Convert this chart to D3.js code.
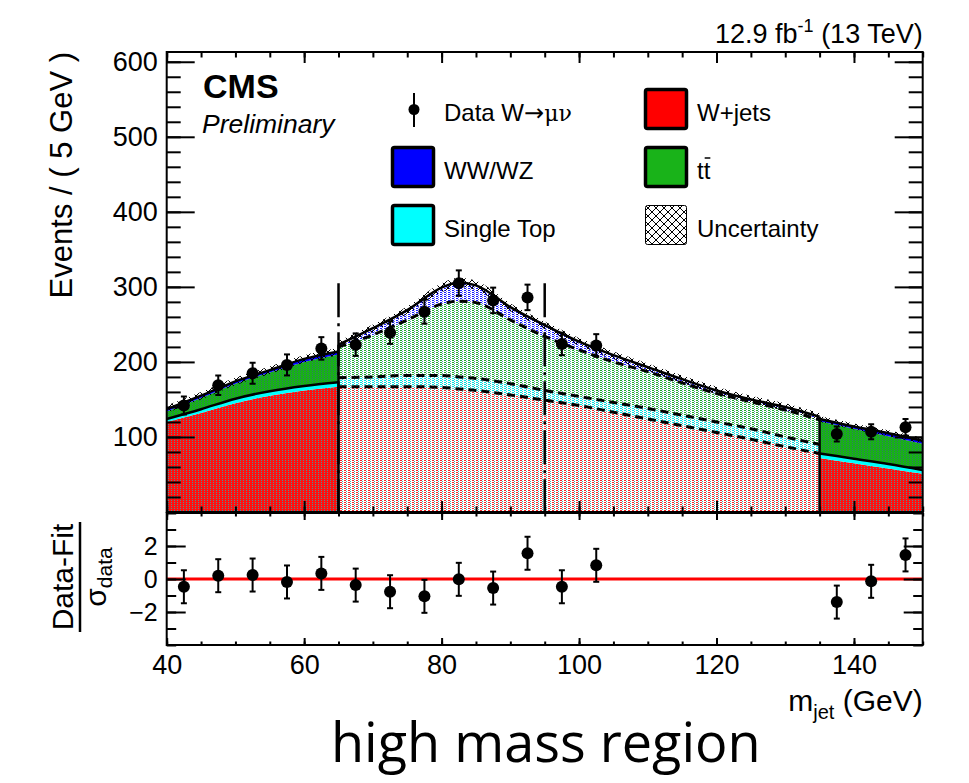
<!DOCTYPE html>
<html>
<head>
<meta charset="UTF-8">
<title>jet mass fit, high mass region</title>
<script src="https://cdn.jsdelivr.net/npm/d3@7"></script>
<style>
body{margin:0;background:#fff;}
svg text{font-family:"Liberation Sans",Arial,Helvetica,sans-serif;fill:#000;}
</style>
</head>
<body>
<div id="chart"></div>
<script>
// ---- data ----
var binCenters=[42.5,47.5,52.5,57.5,62.5,67.5,72.5,77.5,82.5,87.5,92.5,97.5,102.5,137.5,142.5,147.5];
var dataCounts=[142,169,185,196,218,223,239,267,305,282,286,224,222,104,107,113];
var dataErrors=[12,13,14,14,15,15,15,16,17,17,17,15,15,10,10,11];
var pulls=[-0.47,0.2,0.24,-0.18,0.34,-0.37,-0.77,-1.05,-0.02,-0.55,1.56,-0.47,0.83,-1.4,-0.14,1.46];
var pullError=1;

// fit components, low sideband
var lowMass=[40,45,50,55,60,65];
var lowWjets=[120,132,145,155,162,167];
var lowSingleTop=[4,5,6,6,6,6];
var lowTtbar=[10,15,20,25,32,37];
var lowDiboson=[3,3,3,3,4,4];
var lowUnc=[5,5,5,5,5,5];
// signal region (fitted, drawn dotted)
var sigMass=[65,70,75,80,82.5,85,90,95,100,105,110,115,120,125,130,135];
var sigWjets=[167,167,167,166,164,162,156,149,142,133,124,115,106,97,87,78];
var sigSingleTop=[12,13,15,16,16,16,15,13,12,13,14,14,14,14,13,12];
var sigTtbar=[41,56,74,95,101,101,85,72,62,54,49,43,38,36,36,33];
var sigDiboson=[3,9,13,22,25,23,17,15,11,9,6,5,4,3,4,4];
var sigUnc=[5,5,5,6,6,6,5,5,5,5,5,5,5,5,5,5];
// high sideband
var highMass=[135,140,145,150];
var highWjets=[72,65,58,51];
var highSingleTop=[6,6,6,5];
var highTtbar=[43,40,37,35];
var highDiboson=[3,3,4,4];
var highUnc=[4,4,4,4];

var windowEdges=[65,95];
var windowTop=305;

var xTickLabels=[40,60,80,100,120,140];
var yTickLabels=[100,200,300,400,500,600];
var pullTickLabels=[-2,0,2];

// ---- layout ----
var W=969,H=783;
var fLeft=166.7,fRight=922.7,fTop=52,mainBottom=512,ratioTop=513,ratioBottom=645;

var svg=d3.select("#chart").append("svg").attr("width",W).attr("height",H);
var defs=svg.append("defs");

var x=d3.scaleLinear().domain([40,150]).range([fLeft,fRight]);
var y=d3.scaleLinear().domain([0,613]).range([mainBottom,fTop]);
var yr=d3.scaleLinear().domain([-4,4]).range([ratioBottom,ratioTop]);

// fill patterns (ROOT-ish dotted fills)
function pattern(id,w,h,bg,dots){
	var p=defs.append("pattern").attr("id",id).attr("patternUnits","userSpaceOnUse")
		.attr("width",w).attr("height",h);
	p.append("rect").attr("width",w).attr("height",h).attr("fill",bg);
	dots.forEach(function(d){
		p.append("rect").attr("x",d[0]).attr("y",d[1]).attr("width",d[2]).attr("height",d[3]).attr("fill",d[4]);
	});
}
pattern("side-wjets",3,2,"#ff1010",[[0,0,1,1,"#4a9494"]]);
pattern("side-stop",3,2,"#00ffff",[]);
pattern("side-ttbar",3,2,"#18b018",[[0,0,1,1,"#2f7d62"]]);
pattern("side-diboson",3,2,"#0000ff",[]);
pattern("sig-wjets",4,2,"#ffffff",[[0,0,2,1,"#ee2828"],[2,1,1,1,"#50a8a8"]]);
pattern("sig-stop",4,2,"#ffffff",[[0,0,2,1,"#00e0e0"],[2,1,1,1,"#30c8c8"]]);
pattern("sig-ttbar",4,2,"#ffffff",[[0,0,2,1,"#1ea82e"],[2,1,1,1,"#58b0a0"]]);
pattern("sig-diboson",4,2,"#ffffff",[[0,0,2,1,"#1818ff"],[2,1,1,1,"#7070ff"]]);

var hatch=defs.append("pattern").attr("id","hatch").attr("patternUnits","userSpaceOnUse")
	.attr("width",8).attr("height",8);
hatch.append("path").attr("d","M0,0L8,8M8,0L0,8").attr("stroke","#000").attr("stroke-width",1).attr("fill","none");

defs.append("clipPath").attr("id","mainClip").append("rect")
	.attr("x",fLeft).attr("y",fTop).attr("width",fRight-fLeft).attr("height",mainBottom-fTop);

var plot=svg.append("g").attr("clip-path","url(#mainClip)");

// ---- stacked fit components ----
var keys=["wjets","stop","ttbar","diboson"];
var regions=[
	{mass:lowMass,wjets:lowWjets,stop:lowSingleTop,ttbar:lowTtbar,diboson:lowDiboson,unc:lowUnc,kind:"side"},
	{mass:sigMass,wjets:sigWjets,stop:sigSingleTop,ttbar:sigTtbar,diboson:sigDiboson,unc:sigUnc,kind:"sig"},
	{mass:highMass,wjets:highWjets,stop:highSingleTop,ttbar:highTtbar,diboson:highDiboson,unc:highUnc,kind:"side"}
];
var curve=d3.curveMonotoneX;

regions.forEach(function(r){
	var rows=r.mass.map(function(m,i){
		return {m:m,wjets:r.wjets[i],stop:r.stop[i],ttbar:r.ttbar[i],diboson:r.diboson[i],unc:r.unc[i]};
	});
	r.series=d3.stack().keys(keys)(rows);
	var area=d3.area().curve(curve)
		.x(function(d){return x(d.data.m);})
		.y0(function(d){return y(d[0]);})
		.y1(function(d){return y(d[1]);});
	plot.append("g").selectAll("path").data(r.series).enter().append("path")
		.attr("d",area)
		.attr("fill",function(d){return "url(#"+r.kind+"-"+d.key+")";});

	var line=d3.line().curve(curve)
		.x(function(d){return x(d.data.m);})
		.y(function(d){return y(d[1]);});
	if(r.kind=="side"){
		plot.append("path").attr("d",line(r.series[1])).attr("fill","none")
			.attr("stroke","#000").attr("stroke-width",2.5);
	}else{
		[0,1,2].forEach(function(k){
			plot.append("path").attr("d",line(r.series[k])).attr("fill","none")
				.attr("stroke","#000").attr("stroke-width",3).attr("stroke-dasharray","8,5");
		});
	}
	// uncertainty band around the total
	var tot=r.series[3];
	var band=d3.area().curve(curve)
		.x(function(d){return x(d.data.m);})
		.y0(function(d){return y(d[1]-d.data.unc);})
		.y1(function(d){return y(d[1]+d.data.unc);});
	plot.append("path").attr("d",band(tot)).attr("fill","url(#hatch)");
	plot.append("path").attr("d",line(tot)).attr("fill","none")
		.attr("stroke","#000").attr("stroke-width",2.5);
});

// region edges
var lowTot=regions[0].series[3],sigTot=regions[1].series[3],highTot=regions[2].series[3];
var edges=[
	{m:65,top:Math.max(lowTot[lowTot.length-1][1],sigTot[0][1])},
	{m:135,top:Math.max(sigTot[sigTot.length-1][1],highTot[0][1])}
];
plot.selectAll(".edge").data(edges).enter().append("line")
	.attr("x1",function(d){return x(d.m);}).attr("x2",function(d){return x(d.m);})
	.attr("y1",y(0)).attr("y2",function(d){return y(d.top);})
	.attr("stroke","#000").attr("stroke-width",2.5);

// mass window markers
plot.selectAll(".win").data(windowEdges).enter().append("line")
	.attr("x1",function(d){return x(d);}).attr("x2",function(d){return x(d);})
	.attr("y1",y(windowTop)).attr("y2",y(0))
	.attr("stroke","#000").attr("stroke-width",2.5).attr("stroke-dasharray","34,6,3,6");

// ---- data points ----
function drawPoints(g,xs,ys,lo,hi,r){
	var pts=g.selectAll(null).data(xs).enter().append("g");
	pts.append("line").attr("x1",function(d){return x(d);}).attr("x2",function(d){return x(d);})
		.attr("y1",function(d,i){return lo(i);}).attr("y2",function(d,i){return hi(i);})
		.attr("stroke","#000").attr("stroke-width",2);
	[lo,hi].forEach(function(f){
		pts.append("line").attr("x1",function(d){return x(d)-3;}).attr("x2",function(d){return x(d)+3;})
			.attr("y1",function(d,i){return f(i);}).attr("y2",function(d,i){return f(i);})
			.attr("stroke","#000").attr("stroke-width",2);
	});
	pts.append("circle").attr("cx",function(d){return x(d);}).attr("cy",function(d,i){return ys(i);})
		.attr("r",r).attr("fill","#000");
}
drawPoints(plot,binCenters,
	function(i){return y(dataCounts[i]);},
	function(i){return y(dataCounts[i]-dataErrors[i]);},
	function(i){return y(dataCounts[i]+dataErrors[i]);},6);

// ---- main frame and axes ----
function axisStyle(g){
	g.select(".domain").remove();
	g.selectAll("line").attr("stroke","#000").attr("stroke-width",2);
	g.selectAll("text").attr("fill","#000");
}
var yMinor=d3.range(0,614,20),yMajor=d3.range(0,614,100);
svg.append("g").attr("transform","translate("+fLeft+",0)")
	.call(d3.axisRight(y).tickValues(yMinor).tickSize(14).tickFormat("")).call(axisStyle);
svg.append("g").attr("transform","translate("+fLeft+",0)")
	.call(d3.axisRight(y).tickValues(yMajor).tickSize(28).tickFormat("")).call(axisStyle);
svg.append("g").attr("transform","translate("+fRight+",0)")
	.call(d3.axisLeft(y).tickValues(yMinor).tickSize(14).tickFormat("")).call(axisStyle);
svg.append("g").attr("transform","translate("+fRight+",0)")
	.call(d3.axisLeft(y).tickValues(yMajor).tickSize(28).tickFormat("")).call(axisStyle);
svg.append("g").attr("transform","translate("+fLeft+",0)")
	.call(d3.axisLeft(y).tickValues(yTickLabels).tickSize(0).tickPadding(9)).call(axisStyle)
	.selectAll("text").style("font-size","27px");

var xMinor=d3.range(40,151,5),xMajor=d3.range(40,151,20);
[[fTop,1,11],[mainBottom,-1,11],[ratioTop,1,7],[ratioBottom,-1,7]].forEach(function(s){
	var ax=s[1]>0?d3.axisBottom:d3.axisTop;
	svg.append("g").attr("transform","translate(0,"+s[0]+")")
		.call(ax(x).tickValues(xMinor).tickSize(s[2]/2).tickFormat("")).call(axisStyle);
	svg.append("g").attr("transform","translate(0,"+s[0]+")")
		.call(ax(x).tickValues(xMajor).tickSize(s[2]).tickFormat("")).call(axisStyle);
});

svg.append("rect").attr("x",fLeft).attr("y",fTop).attr("width",fRight-fLeft).attr("height",mainBottom-fTop)
	.attr("fill","none").attr("stroke","#000").attr("stroke-width",2);

// ---- ratio panel ----
var ratio=svg.append("g");
ratio.append("line").attr("x1",x(40)).attr("x2",x(150)).attr("y1",yr(0)).attr("y2",yr(0))
	.attr("stroke","#ff0000").attr("stroke-width",3);
drawPoints(ratio,binCenters,
	function(i){return yr(pulls[i]);},
	function(i){return yr(pulls[i]-pullError);},
	function(i){return yr(pulls[i]+pullError);},6);

var rMinor=d3.range(-4,5,1),rMajor=[-2,0,2];
svg.append("g").attr("transform","translate("+fLeft+",0)")
	.call(d3.axisRight(yr).tickValues(rMinor).tickSize(9.5).tickFormat("")).call(axisStyle);
svg.append("g").attr("transform","translate("+fLeft+",0)")
	.call(d3.axisRight(yr).tickValues(rMajor).tickSize(19).tickFormat("")).call(axisStyle);
svg.append("g").attr("transform","translate("+fRight+",0)")
	.call(d3.axisLeft(yr).tickValues(rMinor).tickSize(9.5).tickFormat("")).call(axisStyle);
svg.append("g").attr("transform","translate("+fRight+",0)")
	.call(d3.axisLeft(yr).tickValues(rMajor).tickSize(19).tickFormat("")).call(axisStyle);
svg.append("g").attr("transform","translate("+fLeft+",0)")
	.call(d3.axisLeft(yr).tickValues(pullTickLabels).tickSize(0).tickPadding(9).tickFormat(d3.format("d"))).call(axisStyle)
	.selectAll("text").style("font-size","25px");
svg.append("g").attr("transform","translate(0,"+ratioBottom+")")
	.call(d3.axisBottom(x).tickValues(xTickLabels).tickSize(0).tickPadding(10)).call(axisStyle)
	.selectAll("text").style("font-size","27px");

svg.append("rect").attr("x",fLeft).attr("y",ratioTop).attr("width",fRight-fLeft).attr("height",ratioBottom-ratioTop)
	.attr("fill","none").attr("stroke","#000").attr("stroke-width",2);

// ---- texts ----
svg.append("text").attr("transform","rotate(-90)").attr("x",-fTop).attr("y",72)
	.attr("text-anchor","end").style("font-size","31px").text("Events / ( 5 GeV )");

var rl=svg.append("g").attr("transform","translate(0,577) rotate(-90)");
rl.append("text").attr("x",0).attr("y",73).attr("text-anchor","middle").style("font-size","30px").text("Data-Fit");
rl.append("line").attr("x1",-55).attr("x2",55).attr("y1",80).attr("y2",80).attr("stroke","#000").attr("stroke-width",2.5);
var sg=rl.append("text").attr("x",0).attr("y",106).attr("text-anchor","middle").style("font-size","30px");
sg.append("tspan").text("\u03c3");
sg.append("tspan").attr("dy",6).style("font-size","21px").text("data");

var mj=svg.append("text").attr("x",fRight).attr("y",711).attr("text-anchor","end").style("font-size","30px");
mj.append("tspan").text("m");
mj.append("tspan").attr("dy",8).style("font-size","20px").text("jet");
mj.append("tspan").attr("dy",-8).text(" (GeV)");

var lumi=svg.append("text").attr("x",fRight).attr("y",43).attr("text-anchor","end").style("font-size","27px");
lumi.append("tspan").text("12.9 fb");
lumi.append("tspan").attr("dy",-11).style("font-size","18px").text("-1");
lumi.append("tspan").attr("dy",11).text(" (13 TeV)");

svg.append("text").attr("x",203).attr("y",98).style("font-size","34px").style("font-weight","bold").text("CMS");
svg.append("text").attr("x",202).attr("y",133).style("font-size","26.5px").style("font-style","italic").text("Preliminary");

svg.append("text").attr("x",331).attr("y",762).style("font-family","'Open Sans',sans-serif")
	.style("font-size","54px").text("high mass region");

// ---- legend ----
var leg=svg.append("g");
leg.append("line").attr("x1",414).attr("x2",414).attr("y1",93).attr("y2",127).attr("stroke","#000").attr("stroke-width",2);
leg.append("circle").attr("cx",414).attr("cy",109.5).attr("r",5.5).attr("fill","#000");
var dl=leg.append("text").attr("x",444).attr("y",121).style("font-size","24px");
dl.append("tspan").text("Data W");
dl.append("tspan").style("font-family","'DejaVu Sans',sans-serif").style("font-size","24px").text("\u2192");
dl.append("tspan").style("font-family","'DejaVu Serif',serif").style("font-size","22px").text("\u03bc\u03bd");

var legendItems=[
	{name:"WW/WZ",fill:"#0000ff",col:0,row:1},
	{name:"Single Top",fill:"#00ffff",col:0,row:2},
	{name:"W+jets",fill:"#ff0000",col:1,row:0},
	{name:"tt",fill:"#19b319",col:1,row:1},
	{name:"Uncertainty",fill:"url(#hatch)",col:1,row:2}
];
var li=leg.selectAll(".item").data(legendItems).enter().append("g")
	.attr("transform",function(d){return "translate("+(d.col?644:391)+","+(88+d.row*58)+")";});
li.append("rect").attr("x",1.5).attr("y",1.5).attr("width",41).attr("height",39).attr("rx",2)
	.attr("fill",function(d){return d.fill;})
	.attr("stroke","#000").attr("stroke-width",function(d){return d.name=="Uncertainty"?1:3.5;});
li.append("text").attr("x",53).attr("y",33).style("font-size","24px").text(function(d){return d.name;});
// bar over the second t of tt
var ttText=li.filter(function(d){return d.name=="tt";}).select("text");
var ttW=ttText.node().getComputedTextLength();
li.filter(function(d){return d.name=="tt";}).append("line")
	.attr("x1",53+ttW/2+1).attr("x2",53+ttW).attr("y1",12).attr("y2",12)
	.attr("stroke","#000").attr("stroke-width",1.5);
</script>
</body>
</html>
